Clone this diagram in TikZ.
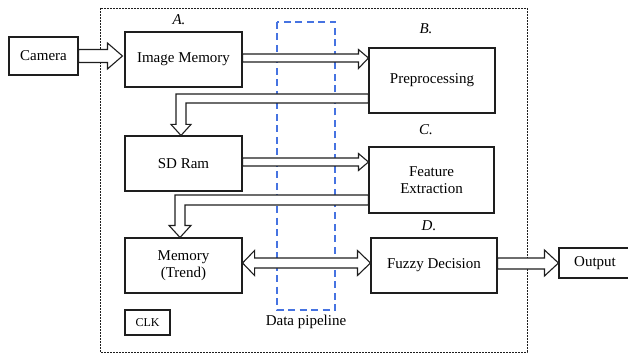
\documentclass[tikz,border=0pt]{standalone}
\usepackage{fontspec}
\setmainfont{Liberation Serif}
\usetikzlibrary{calc}
\definecolor{ink}{RGB}{30,30,30}
\definecolor{pipeblue}{RGB}{70,115,225}
\tikzset{
  blk/.style={draw=ink, line width=1.1pt, fill=white, inner sep=2pt, align=center,
              font=\fontsize{15}{17}\selectfont},
  tag/.style={font=\fontsize{15}{17}\selectfont\itshape, inner sep=0pt},
  hollow/.style={draw=ink, line width=1.1pt, fill=white, line join=miter},
  frame/.style={draw=ink, line width=0.9pt, dash pattern=on 1.8pt off 1.2pt},
  pipe/.style={draw=pipeblue, line width=1.3pt, dash pattern=on 7pt off 4.5pt}
}
\begin{document}
\begin{tikzpicture}[x=1pt,y=-1pt]
\useasboundingbox (0,0) rectangle (628,355);

% outer system boundary and pipeline region
\draw[frame] (100,8) rectangle (527,352);
\draw[pipe] (277,22) rectangle (335,310);

% blocks
\node[blk, minimum width=69pt, minimum height=38pt] (cam) at (43.5,56) {Camera};
\node[blk, minimum width=117pt, minimum height=55pt] (imem) at (183.5,59.5) {Image Memory};
\node[blk, minimum width=126pt, minimum height=65pt] (pre) at (432,80.5) {Preprocessing};
\node[blk, minimum width=117pt, minimum height=55pt] (sdr) at (183.5,163.5) {SD Ram};
\node[blk, minimum width=125pt, minimum height=66pt] (fex) at (431.5,180) {Feature\\Extraction};
\node[blk, minimum width=117pt, minimum height=55pt] (mem) at (183.5,265.5) {Memory\\(Trend)};
\node[blk, minimum width=126pt, minimum height=55pt] (fuz) at (434,265.5) {Fuzzy Decision};
\node[blk, minimum width=72pt, minimum height=30pt] (out) at (595,263) {Output};
\node[blk, minimum width=45pt, minimum height=25pt, font=\fontsize{12}{14}\selectfont] (clk) at (147.5,322.5) {CLK};

% stage labels
\node[tag] (la) at (179,20) {A.};
\node[tag] (lb) at (426,29) {B.};
\node[tag] (lc) at (426,130) {C.};
\node[tag] (ld) at (429,226) {D.};
\node[font=\fontsize{15}{17}\selectfont, inner sep=0pt] (dp) at (306,322) {Data pipeline};

% Camera -> Image Memory
\draw[hollow] let \p1=(cam.east), \p2=(imem.west) in
  (\x1,\y1+6.5pt) -- (\x2-17pt,\y1+6.5pt) -- (\x2-17pt,\y1+13pt) -- (\x2-2pt,\y1)
  -- (\x2-17pt,\y1-13pt) -- (\x2-17pt,\y1-6.5pt) -- (\x1,\y1-6.5pt) -- cycle;

% Image Memory -> Preprocessing
\draw[hollow] let \p1=(imem.east), \p2=(pre.west) in
  (\x1,\y1+5.5pt) -- (\x2-10pt,\y1+5.5pt) -- (\x2-10pt,\y1+10pt) -- (\x2,\y1+1.5pt)
  -- (\x2-10pt,\y1-9pt) -- (\x2-10pt,\y1-2.5pt) -- (\x1,\y1-2.5pt) -- cycle;

% Preprocessing -> SD Ram
\draw[hollow] let \p1=(pre.west), \p2=(sdr.north) in
  (\x1,\y1-13.5pt) -- (\x2-7.5pt,\y1-13.5pt) -- (\x2-7.5pt,\y2+11pt)
  -- (\x2-12.5pt,\y2+11pt) -- (\x2-2.5pt,\y2) -- (\x2+7.5pt,\y2+11pt)
  -- (\x2+2.5pt,\y2+11pt) -- (\x2+2.5pt,\y1-22.5pt) -- (\x1,\y1-22.5pt) -- cycle;

% SD Ram -> Feature Extraction
\draw[hollow] let \p1=(sdr.east), \p2=(fex.west) in
  (\x1,\y1+5.5pt) -- (\x2-10pt,\y1+5.5pt) -- (\x2-10pt,\y1+10pt) -- (\x2,\y1+1.5pt)
  -- (\x2-10pt,\y1-7pt) -- (\x2-10pt,\y1-2.5pt) -- (\x1,\y1-2.5pt) -- cycle;

% Feature Extraction -> Memory (Trend)
\draw[hollow] let \p1=(fex.west), \p2=(mem.north) in
  (\x1,\y1-15pt) -- (\x2-8.5pt,\y1-15pt) -- (\x2-8.5pt,\y2+12pt)
  -- (\x2-14.5pt,\y2+12pt) -- (\x2-3.5pt,\y2) -- (\x2+7.5pt,\y2+12pt)
  -- (\x2+1.5pt,\y2+12pt) -- (\x2+1.5pt,\y1-25pt) -- (\x1,\y1-25pt) -- cycle;

% Memory (Trend) <-> Fuzzy Decision
\draw[hollow] let \p1=(mem.east), \p2=(fuz.west) in
  (\x1,\y1+2.5pt) -- (\x1+12pt,\y1+15pt) -- (\x1+12pt,\y1+7.5pt)
  -- (\x2-13pt,\y1+7.5pt) -- (\x2-13pt,\y1+15pt) -- (\x2,\y1+2.5pt)
  -- (\x2-13pt,\y1-10pt) -- (\x2-13pt,\y1-2.5pt) -- (\x1+12pt,\y1-2.5pt)
  -- (\x1+12pt,\y1-10pt) -- cycle;

% Fuzzy Decision -> Output
\draw[hollow] let \p1=(fuz.east), \p2=(out.west) in
  (\x1,\y1+7.5pt) -- (\x2-14pt,\y1+7.5pt) -- (\x2-14pt,\y1+15.5pt) -- (\x2,\y1+2.5pt)
  -- (\x2-14pt,\y1-10.5pt) -- (\x2-14pt,\y1-3.5pt) -- (\x1,\y1-3.5pt) -- cycle;
\end{tikzpicture}
\end{document}
